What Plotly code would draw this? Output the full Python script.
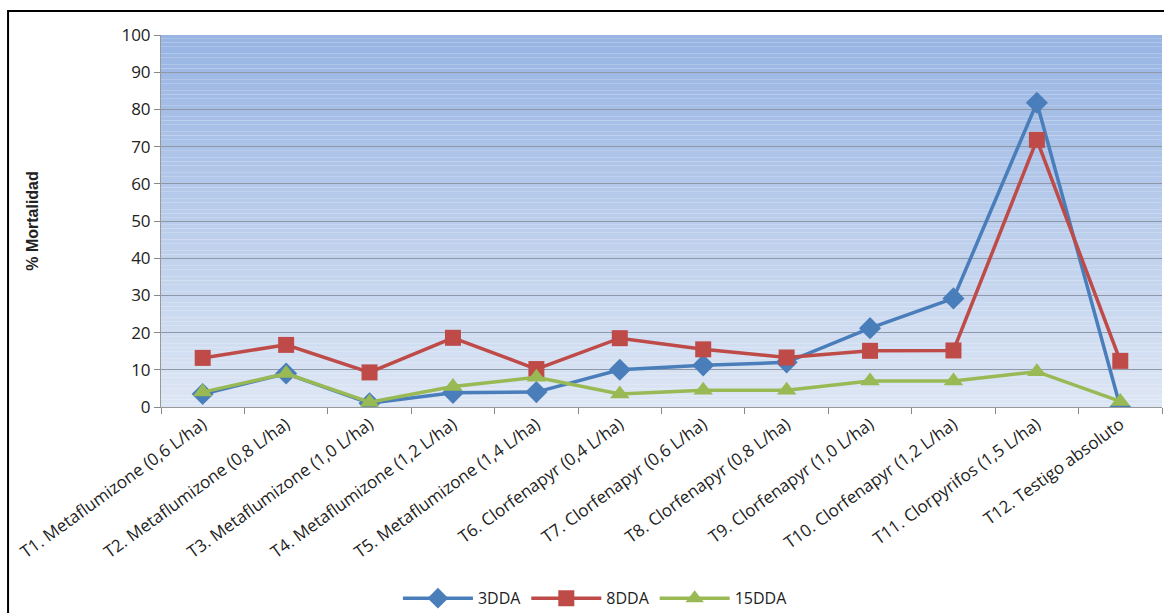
import plotly.graph_objects as go

categories = [
    "T1. Metaflumizone (0,6 L/ha)",
    "T2. Metaflumizone (0,8 L/ha)",
    "T3. Metaflumizone (1,0 L/ha)",
    "T4. Metaflumizone (1,2 L/ha)",
    "T5. Metaflumizone (1,4 L/ha)",
    "T6. Clorfenapyr (0,4 L/ha)",
    "T7. Clorfenapyr (0,6 L/ha)",
    "T8. Clorfenapyr (0,8 L/ha)",
    "T9. Clorfenapyr (1,0 L/ha)",
    "T10. Clorfenapyr (1,2 L/ha)",
    "T11. Clorpyrifos (1,5 L/ha)",
    "T12. Testigo absoluto",
]
dda3 = [3.5, 9.0, 1.0, 3.8, 4.0, 10.0, 11.2, 12.0, 21.2, 29.2, 81.8, 0.0]
dda8 = [13.2, 16.7, 9.3, 18.6, 10.2, 18.5, 15.5, 13.3, 15.1, 15.2, 71.8, 12.4]
dda15 = [4.0, 9.0, 1.3, 5.5, 8.0, 3.5, 4.5, 4.5, 7.0, 7.0, 9.5, 1.5]

fig = go.Figure()
fig.add_trace(go.Scatter(x=categories, y=dda3, name="3DDA", mode="lines+markers",
                         line=dict(color="#4a7ebb", width=3.5),
                         marker=dict(symbol="diamond", size=17, color="#4a7ebb")))
fig.add_trace(go.Scatter(x=categories, y=dda8, name="8DDA", mode="lines+markers",
                         line=dict(color="#be4b48", width=3.5),
                         marker=dict(symbol="square", size=16, color="#be4b48")))
fig.add_trace(go.Scatter(x=categories, y=dda15, name="15DDA", mode="lines+markers",
                         line=dict(color="#98b954", width=3.5),
                         marker=dict(symbol="triangle-up", size=17, color="#98b954")))

# vertical gradient background bands
shapes = []
top = (151, 180, 227)
bot = (221, 230, 244)
n = 100
for i in range(n):
    t = (i + 0.5) / n
    c = tuple(int(round(bot[k] + (top[k] - bot[k]) * t)) for k in range(3))
    shapes.append(dict(type="rect", xref="x domain", yref="y", x0=0, x1=1,
                       y0=100 * i / n, y1=100 * (i + 1) / n,
                       fillcolor="rgb(%d,%d,%d)" % c, line=dict(width=0),
                       layer="below"))
# outer frame
shapes.append(dict(type="rect", xref="paper", yref="paper",
                   x0=-0.1528, x1=1.02, y0=-0.7, y1=1.0645,
                   line=dict(color="black", width=2), fillcolor="rgba(0,0,0,0)",
                   layer="above"))

fig.update_layout(
    width=1164, height=613,
    margin=dict(l=161, r=2, t=35, b=206, autoexpand=False),
    paper_bgcolor="white",
    plot_bgcolor="rgba(0,0,0,0)",
    font=dict(family="Open Sans, Liberation Sans, sans-serif", color="#222", size=16),
    shapes=shapes,
    showlegend=True,
    legend=dict(orientation="h", x=0.434, xanchor="center",
                yref="container", y=0.024, yanchor="middle",
                font=dict(size=16, color="#222"), itemwidth=70, tracegroupgap=0),
    xaxis=dict(type="category", range=[-0.5, 11.5], tickson="boundaries",
               ticks="outside", ticklen=6, tickcolor="#888", showgrid=False,
               showline=True, linecolor="#999", linewidth=1, automargin=False,
               tickangle=-36, tickfont=dict(size=17)),
    yaxis=dict(range=[0, 100], dtick=10, ticks="outside", ticklen=6, tickcolor="#888",
               showgrid=True, gridcolor="#8f98a6", gridwidth=1, automargin=False,
               showline=True, linecolor="#999", linewidth=1, zeroline=False,
               tickfont=dict(size=17),
               title=dict(text="<b>% Mortalidad</b>", standoff=78,
                          font=dict(size=16, family="Liberation Sans Narrow, Arial Narrow, Liberation Sans, sans-serif"))),
)

fig.write_html("out.html")
